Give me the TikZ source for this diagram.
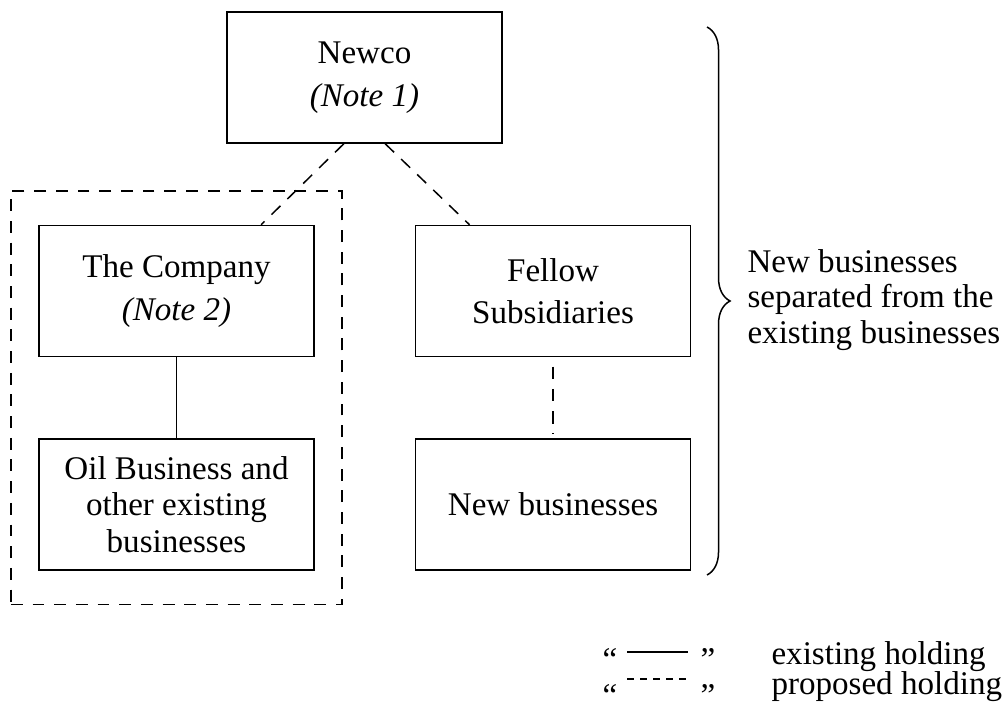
\documentclass[tikz,border=0pt]{standalone}
\usepackage{fontspec}
\setmainfont{Liberation Serif}
\usetikzlibrary{positioning,fit,calc,decorations.pathreplacing}
\tikzset{
  every node/.style={font=\fontsize{12.2}{15.7}\selectfont},
  box/.style={draw,line width=0.55pt,minimum width=101.5pt,minimum height=48.3pt,align=center,inner sep=2pt},
  tightbox/.style={box,font=\fontsize{12.2}{13.5}\selectfont},
  held/.style={line width=0.55pt},
  proposed/.style={line width=0.55pt,dash pattern=on 4.6pt off 3.6pt},
  frame/.style={draw,line width=0.55pt,dash pattern=on 4.4pt off 3.6pt,inner xsep=10.1pt,inner ysep=12.4pt},
  legenddash/.style={line width=0.55pt,dash pattern=on 2.6pt off 2.2pt},
  quotemark/.style={inner sep=0pt,anchor=base west},
  legendtext/.style={inner sep=0pt,anchor=base west},
  sidenote/.style={anchor=west,align=left,inner sep=0pt,font=\fontsize{12.2}{13.2}\selectfont},
}

\begin{document}
\begin{tikzpicture}[x=0.369pt,y=-0.369pt]
  \useasboundingbox (0,0) rectangle (1005,715);

  \node[box] (newco) at (364.5,77.5) {Newco\\\textit{(Note 1)}};
  \node[box] (company) at (176.5,291) {The Company\\\textit{(Note 2)}};
  \node[box,right=36.9pt of company] (fellow) {Fellow\\Subsidiaries};
  \node[tightbox,below=30pt of company] (oil) {Oil Business and\\other existing\\businesses};
  \node[box,below=30pt of fellow] (newbiz) {New businesses};
  \node[frame,fit=(company)(oil)] (group) {};

  \draw[proposed] ([xshift=-7.6pt]newco.south) -- ([xshift=31.2pt]company.north);
  \draw[proposed] ([xshift=7.6pt]newco.south) -- ([xshift=-30.8pt]fellow.north);
  \draw[held] (company) -- (oil);
  \draw[proposed,shorten <=3.5pt,shorten >=1.5pt] (fellow) -- (newbiz);

  \coordinate (bracetop) at (707,27);
  \coordinate (bracebot) at (707,575);
  \draw[line width=0.55pt,decorate,decoration={brace,amplitude=8.5pt}] (bracetop) -- (bracebot);
  \node[sidenote] (sepnote) at (747,300) {New businesses\\separated from the\\existing businesses};

  \node[quotemark] (openA) at (602,670) {``};
  \node[quotemark] (closeA) at (700,670) {''};
  \node[quotemark] (openB) at (602,706) {``};
  \node[quotemark] (closeB) at (700,706) {''};
  \coordinate (solidL) at (627,652);
  \coordinate (solidR) at (688,652);
  \coordinate (dashL) at (627,679);
  \coordinate (dashR) at (688,679);
  \draw[held] (solidL) -- (solidR);
  \draw[legenddash] (dashL) -- (dashR);
  \node[legendtext] (existing) at (771,664) {existing holding};
  \node[legendtext] (proposal) at (771,694) {proposed holding};
\end{tikzpicture}
\end{document}
